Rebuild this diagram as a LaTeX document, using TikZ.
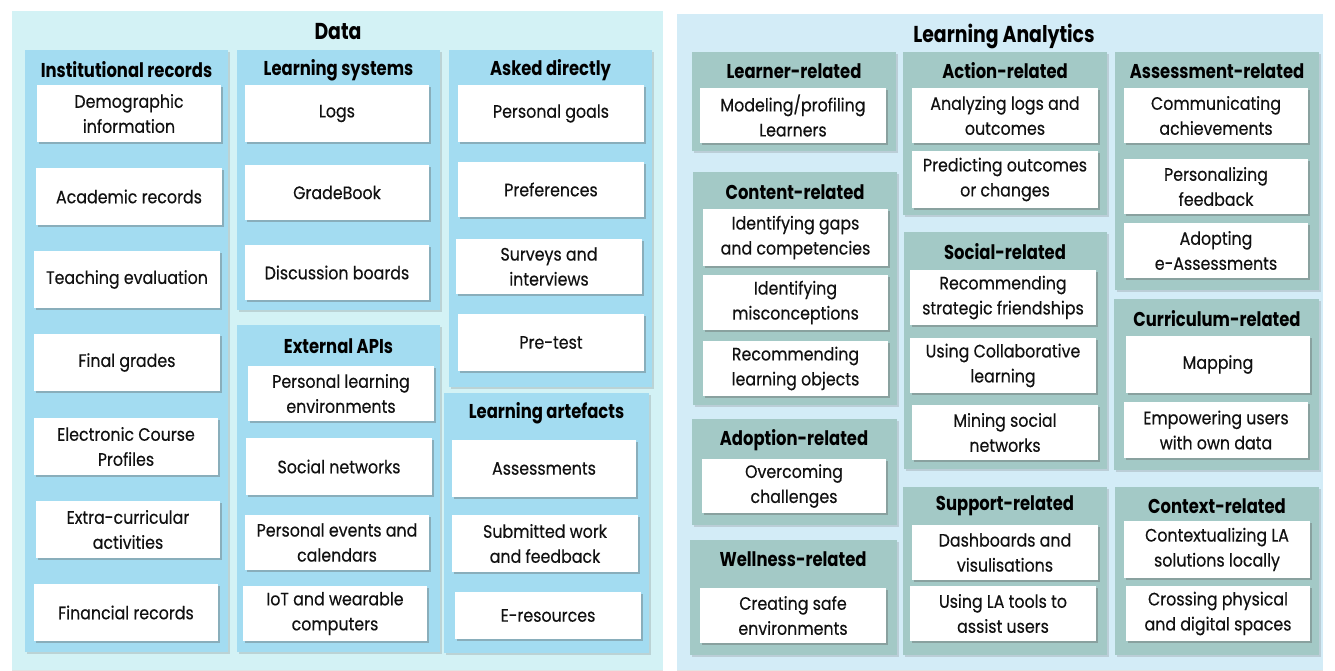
\documentclass[tikz,border=0pt]{standalone}
\usepackage{fontspec}
\setmainfont[FakeStretch=0.88,UprightFeatures={FakeBold=0.35},BoldFeatures={FakeStretch=0.82}]{Poppins}
\usetikzlibrary{shadows}
\definecolor{datab}{HTML}{D3F2F5}
\definecolor{lab}{HTML}{D3ECF7}
\definecolor{dsub}{HTML}{A3DCF1}
\definecolor{lsub}{HTML}{A3C9C6}
\definecolor{txt}{HTML}{111111}
\tikzset{
  outer/.style={draw=none, inner sep=0pt,
    drop shadow={shadow xshift=0pt, shadow yshift=-1pt, opacity=0.18, fill=black!60}},
  subd/.style={fill=dsub, draw=none, inner sep=0pt,
    drop shadow={shadow xshift=1.5pt, shadow yshift=-2pt, opacity=0.22, fill=black!60}},
  subl/.style={fill=lsub, draw=none, inner sep=0pt,
    drop shadow={shadow xshift=1.5pt, shadow yshift=-2pt, opacity=0.22, fill=black!60}},
  wbox/.style={fill=white, draw=none, inner sep=0pt, align=center, text=txt,
    font=\fontsize{18}{25}\selectfont,
    drop shadow={shadow xshift=1.8pt, shadow yshift=-2.2pt, opacity=0.35, fill=black!65}},
  ttl/.style={inner sep=0pt, font=\bfseries\fontsize{20}{22}\selectfont, text=black},
  bigttl/.style={inner sep=0pt, font=\bfseries\fontsize{23}{24}\selectfont, text=black},
}
% rectangle node by corners
\newcommand\rect[6]{\node[#1, minimum width=#4pt-#2pt, minimum height=#5pt-#3pt] (#6) at ({(#2+#4)/2},{(#3+#5)/2}) {};}
\newcommand\bx[6]{\node[wbox, minimum width=#4pt-#2pt, minimum height=#5pt-#3pt] (#1) at ({(#2+#4)/2},{(#3+#5)/2}) {#6};}
\newcommand\ptitle[4]{\node[ttl] (#1) at (#2,#3) {#4};}
\begin{document}
\begin{tikzpicture}[x=1pt,y=-1pt]
\useasboundingbox[fill=white] (0,0) rectangle (1335,670);
% outer panels
\rect{outer, fill=datab}{12}{11}{663}{670}{datapanel}
\rect{outer, fill=lab}{677}{14}{1323}{670}{lapanel}
\node[bigttl] (datattl) at (338,32) {Data};
\node[bigttl] (lattl) at (1004,36) {Learning Analytics};
% ---------- Data sub-panels ----------
\rect{subd}{25}{50}{228}{652}{ir}
\rect{subd}{237}{50}{440}{310}{ls}
\rect{subd}{237}{325}{440}{652}{ea}
\rect{subd}{449}{50}{652}{387}{ad}
\rect{subd}{444}{393}{649}{653}{art}
\ptitle{irt}{126.5}{70}{Institutional records}
\ptitle{lst}{338.5}{70}{Learning systems}
\ptitle{eat}{338.5}{346}{External APIs}
\ptitle{adt}{550.5}{70}{Asked directly}
\ptitle{artt}{546.5}{413}{Learning artefacts}
\bx{d1}{37}{85}{221}{142}{Demographic\\information}
\bx{d2}{36}{168}{222}{225}{Academic records}
\bx{d3}{34}{251}{220}{308}{Teaching evaluation}
\bx{d4}{34}{334}{220}{391}{Final grades}
\bx{d5}{34}{418}{218}{475}{Electronic Course\\Profiles}
\bx{d6}{36}{501}{220}{558}{Extra-curricular\\activities}
\bx{d7}{34}{584}{218}{641}{Financial records}
\bx{l1}{245}{85}{429}{142}{Logs}
\bx{l2}{245}{165}{429}{220}{GradeBook}
\bx{l3}{245}{245}{429}{300}{Discussion boards}
\bx{e1}{248}{366}{434}{421}{Personal learning\\environments}
\bx{e2}{246}{438}{432}{495}{Social networks}
\bx{e3}{245}{515}{429}{570}{Personal events and\\calendars}
\bx{e4}{243}{586}{427}{641}{IoT and wearable\\computers}
\bx{a1}{458}{85}{644}{142}{Personal goals}
\bx{a2}{458}{162}{644}{217}{Preferences}
\bx{a3}{456}{239}{642}{294}{Surveys and\\interviews}
\bx{a4}{458}{314}{644}{371}{Pre-test}
\bx{r1}{452}{440}{636}{497}{Assessments}
\bx{r2}{452}{515}{638}{572}{Submitted work\\and feedback}
\bx{r3}{455}{592}{641}{639}{E-resources}
% ---------- LA sub-panels ----------
\rect{subl}{692}{52}{896}{151}{lr}
\rect{subl}{693}{172}{897}{405}{cr}
\rect{subl}{692}{419}{897}{525}{adr}
\rect{subl}{690}{540}{897}{655}{wr}
\rect{subl}{903}{52}{1107}{215}{acr}
\rect{subl}{904}{232}{1107}{469}{sr}
\rect{subl}{903}{487}{1107}{655}{spr}
\rect{subl}{1115}{52}{1319}{290}{asr}
\rect{subl}{1114}{299}{1319}{470}{cur}
\rect{subl}{1115}{487}{1319}{655}{cxr}
\ptitle{lrt}{794}{71}{Learner-related}
\ptitle{crt}{795}{192}{Content-related}
\ptitle{adrt}{794}{440}{Adoption-related}
\ptitle{wrt}{793}{559}{Wellness-related}
\ptitle{acrt}{1005}{71}{Action-related}
\ptitle{srt}{1005}{252}{Social-related}
\ptitle{sprt}{1005}{506}{Support-related}
\ptitle{asrt}{1217}{71}{Assessment-related}
\ptitle{curt}{1217}{319}{Curriculum-related}
\ptitle{cxrt}{1217}{506}{Context-related}
\bx{m1}{700}{88}{886}{143}{Modeling/profiling\\Learners}
\bx{c1}{703}{209}{888}{266}{Identifying gaps\\and competencies}
\bx{c2}{703}{275}{888}{330}{Identifying\\misconceptions}
\bx{c3}{703}{341}{888}{396}{Recommending\\learning objects}
\bx{o1}{702}{459}{886}{513}{Overcoming\\challenges}
\bx{w1}{700}{588}{886}{643}{Creating safe\\environments}
\bx{ac1}{912}{88}{1098}{143}{Analyzing logs and\\outcomes}
\bx{ac2}{912}{151}{1098}{208}{Predicting outcomes\\or changes}
\bx{s1}{910}{270}{1096}{325}{Recommending\\strategic friendships}
\bx{s2}{910}{338}{1096}{393}{Using Collaborative\\learning}
\bx{s3}{912}{405}{1098}{460}{Mining social\\networks}
\bx{sp1}{912}{525}{1098}{580}{Dashboards and\\visulisations}
\bx{sp2}{910}{586}{1096}{641}{Using LA tools to\\assist users}
\bx{as1}{1124}{88}{1308}{143}{Communicating\\achievements}
\bx{as2}{1124}{159}{1308}{214}{Personalizing\\feedback}
\bx{as3}{1124}{223}{1308}{278}{Adopting\\e-Assessments}
\bx{cu1}{1126}{336}{1310}{393}{Mapping}
\bx{cu2}{1124}{402}{1308}{458}{Empowering users\\with own data}
\bx{cx1}{1124}{521}{1310}{578}{Contextualizing LA\\solutions locally}
\bx{cx2}{1126}{586}{1310}{641}{Crossing physical\\and digital spaces}
\end{tikzpicture}
\end{document}
